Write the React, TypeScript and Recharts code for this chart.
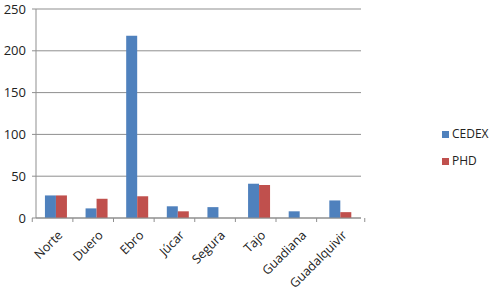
import React from 'react';
import { BarChart, Bar, XAxis, YAxis, CartesianGrid, Legend } from 'recharts';

const categories = ['Norte', 'Duero', 'Ebro', 'Júcar', 'Segura', 'Tajo', 'Guadiana', 'Guadalquivir'];
const cedex = [27, 11.5, 218, 14, 13, 41, 8, 21];
const phd = [27, 23, 26, 8, 0, 39.5, 0, 7];
const yTicks = [0, 50, 100, 150, 200, 250];

const data = categories.map((c, i) => ({ name: c, CEDEX: cedex[i], PHD: phd[i] }));

const W = 497;
const H = 291;
const margin = { top: 9, right: 76, bottom: 0, left: 0 };
const yAxisWidth = 36;
const band = (W - margin.left - margin.right - yAxisWidth) / categories.length;
const FONT = '"Open Sans", sans-serif';
const GRID = '#8f8f8f';

const XTick = (props: any) => {
  const { x, y, payload, index } = props;
  const half = band / 2;
  const isLast = index === categories.length - 1;
  const tx = x + 7;
  const ty = y + 12;
  return (
    <g>
      <line x1={x - half} x2={x - half} y1={y - 6} y2={y - 2} stroke={GRID} />
      {isLast && <line x1={x + half} x2={x + half} y1={y - 6} y2={y - 2} stroke={GRID} />}
      <text
        x={tx}
        y={ty}
        transform={`rotate(-45, ${tx}, ${ty})`}
        textAnchor="end"
        fontSize={12.5}
        fontFamily={FONT}
        fill="#222"
      >
        {payload.value}
      </text>
    </g>
  );
};

export default function App() {
  return (
    <div style={{ position: 'absolute', left: 0, top: 0 }}>
      <BarChart
        width={W}
        height={H}
        data={data}
        margin={margin}
        barCategoryGap="22%"
        barGap={0}
      >
        <CartesianGrid vertical={false} stroke={GRID} />
        <XAxis
          dataKey="name"
          interval={0}
          tickLine={false}
          tickSize={4}
          tickMargin={2}
          height={73}
          stroke={GRID}
          tick={<XTick />}
        />
        <YAxis
          width={yAxisWidth}
          domain={[0, 250]}
          ticks={yTicks}
          tickSize={4}
          tickMargin={6}
          stroke={GRID}
          tick={{ fontSize: 13, fontFamily: FONT, fill: '#222' }}
        />
        <Legend
          layout="vertical"
          align="right"
          verticalAlign="top"
          iconType="square"
          iconSize={7}
          wrapperStyle={{ left: 442, top: 120, width: 60, fontFamily: FONT, fontSize: 12, lineHeight: '27px' }}
          formatter={(v: string) => <span style={{ color: '#222', marginLeft: -1 }}>{v}</span>}
        />
        <Bar dataKey="CEDEX" fill="#4F81BD" isAnimationActive={false} />
        <Bar dataKey="PHD" fill="#C0504D" isAnimationActive={false} />
      </BarChart>
    </div>
  );
}
